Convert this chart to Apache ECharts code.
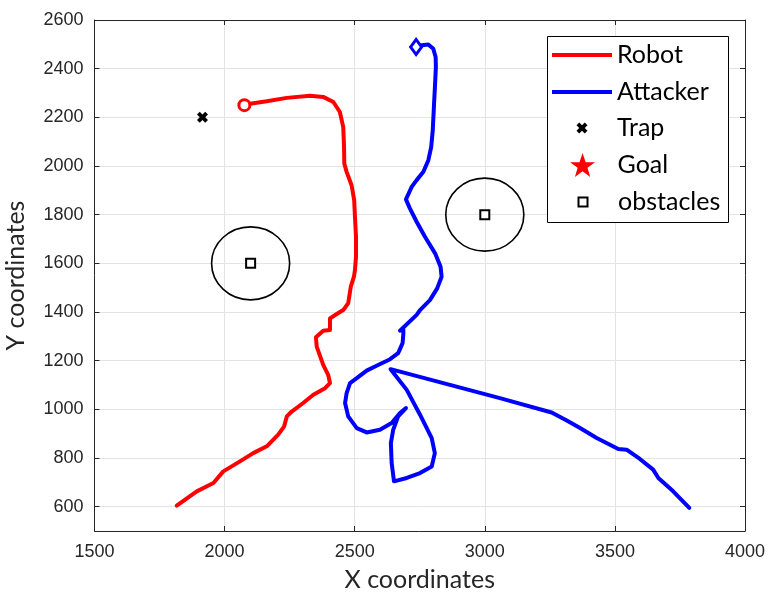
<!DOCTYPE html>
<html>
<head>
<meta charset="utf-8">
<script src="https://cdn.jsdelivr.net/npm/echarts@6/dist/echarts.min.js"></script>
<style>html,body{margin:0;padding:0;background:#fff}#c{width:775px;height:603px}</style>
</head>
<body>
<div id="c"></div>
<script>
// ---- data ----
const robotX = [2076,2098,2162,2239,2328,2379,2418,2443,2456,2459,2460,2469,2488,2498,2501,2505,2505,2501,2497,2485,2475,2456,2431,2405,2405,2379,2351,2354,2379,2398,2405,2386,2341,2302,2258,2239,2229,2206,2162,2110,2059,1995,1957,1893,1816];
const robotY = [2250,2256,2266,2280,2289,2284,2263,2222,2160,2078,2010,1976,1921,1860,1791,1709,1627,1572,1545,1504,1436,1408,1392,1374,1326,1323,1296,1258,1183,1142,1108,1087,1060,1026,991,971,930,896,848,820,786,745,697,663,604];
const attackerX = [2736,2757,2783,2802,2811,2812,2809,2805,2800,2794,2783,2764,2738,2719,2697,2712,2738,2770,2809,2830,2834,2817,2789,2751,2738,2674,2687,2687,2684,2667,2636,2584,2546,2508,2482,2469,2463,2475,2508,2546,2597,2642,2674,2697,2667,2648,2639,2642,2651,2700,2751,2796,2808,2796,2751,2700,2638,3058,3257,3315,3366,3430,3513,3545,3596,3647,3667,3724,3786];
const attackerY = [2489,2496,2499,2482,2448,2407,2339,2256,2147,2078,2024,1976,1942,1914,1863,1826,1771,1709,1641,1586,1545,1497,1449,1408,1388,1323,1328,1310,1272,1231,1206,1179,1159,1128,1108,1067,1026,971,923,905,916,944,985,1005,971,916,861,779,704,718,738,765,820,882,978,1080,1165,1046,987,954,923,882,837,834,796,752,718,663,595];
const trapX = [1915];
const trapY = [2200];
const goalX = [];
const goalY = [];
const obstacleX = [2100, 3000];
const obstacleY = [1600, 1800];
const obstacleR = [150, 150];
const legendNames = ['Robot', 'Attacker', 'Trap', 'Goal', 'obstacles'];

const zip = (a, b) => a.map((v, i) => [v, b[i]]);

const axisColor = '#262626';
const tickFont = {fontSize: 18, fontFamily: 'Liberation Sans, Arial, sans-serif', color: axisColor};
const titleFont = {fontSize: 25, fontFamily: 'Lato, sans-serif', color: axisColor};
const legendText = {fontSize: 25, fontFamily: 'Lato, sans-serif', color: '#000', lineHeight: 28};

const starPath = 'path://M50,0 L61.8,35.1 L98.1,35.1 L68.8,56.8 L79.4,91.9 L50,70 L20.6,91.9 L31.2,56.8 L1.9,35.1 L38.2,35.1 Z';
const trapPath = 'path://M0,2.5 L2.5,0 L5,2.5 L7.5,0 L10,2.5 L7.5,5 L10,7.5 L7.5,10 L5,7.5 L2.5,10 L0,7.5 L2.5,5 Z';
const squarePath = 'path://M0,0 L10,0 L10,10 L0,10 Z';

function mkX(pos, main) {
  return {
    type: 'value', position: pos, min: 1500, max: 4000, interval: 500,
    axisLine: {show: true, onZero: false, lineStyle: {color: axisColor, width: 1}},
    axisTick: {show: true, inside: true, length: 5, lineStyle: {color: axisColor}},
    axisLabel: main ? Object.assign({show: true, margin: 12, formatter: v => String(v)}, tickFont) : {show: false},
    splitLine: {show: main, lineStyle: {color: '#e3e3e3', width: 1}},
    name: main ? 'X coordinates' : '', nameLocation: 'middle', nameGap: 36, nameTextStyle: titleFont
  };
}
function mkY(pos, main) {
  return {
    type: 'value', position: pos, min: 500, max: 2600, splitNumber: 10,
    axisLine: {show: true, onZero: false, lineStyle: {color: axisColor, width: 1}},
    axisTick: {show: true, inside: true, length: 5, lineStyle: {color: axisColor}},
    axisLabel: main ? Object.assign({show: true, margin: 11, showMinLabel: false,
      formatter: v => (v % 200 === 0 ? String(v) : '')}, tickFont) : {show: false},
    splitLine: {show: main, lineStyle: {color: '#e3e3e3', width: 1}},
    name: main ? 'Y coordinates' : '', nameLocation: 'middle', nameGap: 66, nameTextStyle: titleFont
  };
}

// legend layout (one legend component per entry so each icon can have its own size)
const legendCenters = [55, 92, 128, 165, 202];
const legendIconW = [60, 60, 11, 24, 9];
const legendIconH = [4, 4, 11, 24, 9];
const legendIcons = ['rect', 'rect', trapPath, starPath, squarePath];
const legendItemStyles = [
  {color: '#ff0000', borderWidth: 0},
  {color: '#0000ff', borderWidth: 0},
  {color: '#000', borderWidth: 0},
  {color: '#ff0000', borderWidth: 0},
  {color: '#fff', borderColor: '#000', borderWidth: 2}
];
const legends = legendNames.map((n, i) => ({
  data: [{name: n, icon: legendIcons[i], itemStyle: legendItemStyles[i]}],
  left: 552 + (60 - legendIconW[i]) / 2, top: legendCenters[i] - 14, orient: 'vertical',
  itemWidth: 60, itemHeight: legendIconH[i], padding: 0, itemGap: 0,
  selectedMode: false, textStyle: legendText
}));

const option = {
  animation: false,
  backgroundColor: '#fff',
  grid: {left: 94.5, right: 30, top: 20, bottom: 72, containLabel: false, outerBoundsMode: 'none'},
  xAxis: [mkX('bottom', true), mkX('top', false)],
  yAxis: [mkY('left', true), mkY('right', false)],
  legend: legends,
  graphic: [{type: 'rect', left: 547, top: 36, z: 3,
    shape: {width: 181, height: 186},
    style: {fill: '#fff', stroke: '#000', lineWidth: 1}}],
  series: [
    {name: 'Robot', type: 'line', data: zip(robotX, robotY), symbol: 'none', smooth: false,
     lineStyle: {color: '#ff0000', width: 4, join: 'round', cap: 'round'}, itemStyle: {color: '#ff0000'}, z: 3},
    {name: 'Attacker', type: 'line', data: zip(attackerX, attackerY), symbol: 'none', smooth: false,
     lineStyle: {color: '#0000ff', width: 4, join: 'round', cap: 'round'}, itemStyle: {color: '#0000ff'}, z: 3},
    {name: 'robotStart', type: 'scatter', data: zip(robotX.slice(0, 1), robotY.slice(0, 1)), symbol: 'circle', symbolSize: 11,
     itemStyle: {color: '#fff', borderColor: '#ff0000', borderWidth: 3, opacity: 1}, z: 4},
    {name: 'attackerStart', type: 'scatter', data: zip(attackerX.slice(0, 1), attackerY.slice(0, 1)), symbol: 'diamond', symbolSize: [11, 15],
     itemStyle: {color: '#fff', borderColor: '#0000ff', borderWidth: 3, opacity: 1}, z: 4},
    {name: 'Trap', type: 'scatter', data: zip(trapX, trapY), symbol: trapPath, symbolSize: 11,
     itemStyle: {color: '#000', opacity: 1}, z: 4},
    {name: 'Goal', type: 'scatter', data: zip(goalX, goalY), symbol: starPath, symbolSize: 24,
     itemStyle: {color: '#ff0000', opacity: 1}, z: 4},
    {name: 'obstacleCircles', type: 'custom', data: obstacleX.map((x, i) => [x, obstacleY[i], obstacleR[i]]),
     encode: {x: 0, y: 1},
     renderItem: function (params, api) {
       const c = api.coord([api.value(0), api.value(1)]);
       const s = api.size([api.value(2), api.value(2)]);
       return {type: 'ellipse', shape: {cx: c[0], cy: c[1], rx: s[0], ry: s[1]},
               style: {fill: 'none', stroke: '#000', lineWidth: 1.6}};
     }, z: 2},
    {name: 'obstacles', type: 'scatter', data: zip(obstacleX, obstacleY), symbol: 'rect', symbolSize: 9,
     itemStyle: {color: '#fff', borderColor: '#000', borderWidth: 2, opacity: 1}, z: 4}
  ]
};

const chart = echarts.init(document.getElementById('c'), null, {renderer: 'canvas'});
chart.setOption(option);
</script>
</body>
</html>
